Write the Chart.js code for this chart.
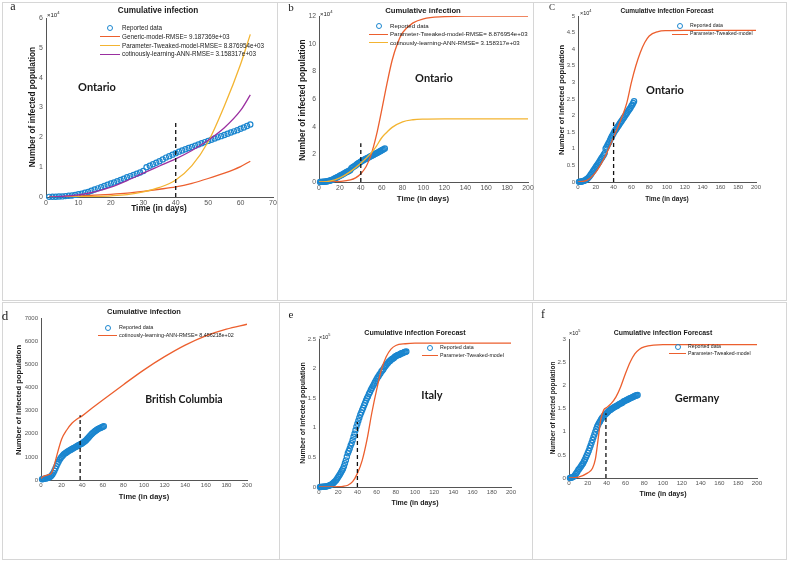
<!DOCTYPE html>
<html>
<head>
<meta charset="utf-8">
<script src="https://cdn.jsdelivr.net/npm/chart.js@4.4.1/dist/chart.umd.min.js"></script>
<style>
  html, body { margin: 0; padding: 0; background: #fff; }
  #page { position: relative; width: 787px; height: 570px; overflow: hidden; font-family: "Liberation Sans", Arial, sans-serif; }
  .frame { position: absolute; border: 1px solid #d6d6d6; box-sizing: border-box; }
  .wrap { position: absolute; }
  .txt { position: absolute; white-space: nowrap; color: #1a1a1a; line-height: 1; }
  .mark { position: absolute; box-sizing: border-box; }
</style>
</head>
<body>
<div id="page"></div>
<script>
// Ontario: reported cumulative cases (x10^4), day 1..63
const ontarioCases = [0.005, 0.008, 0.01, 0.015, 0.02, 0.03, 0.04, 0.05, 0.07, 0.09,
  0.11, 0.14, 0.17, 0.21, 0.25, 0.29, 0.33, 0.37, 0.41, 0.45,
  0.49, 0.53, 0.57, 0.61, 0.66, 0.70, 0.74, 0.78, 0.82, 0.87,
  1.00, 1.05, 1.10, 1.15, 1.20, 1.26, 1.32, 1.37, 1.42, 1.47,
  1.52, 1.56, 1.60, 1.64, 1.68, 1.72, 1.76, 1.80, 1.84, 1.88,
  1.92, 1.96, 2.00, 2.04, 2.08, 2.12, 2.16, 2.20, 2.24, 2.29,
  2.33, 2.38, 2.43];

// British Columbia: reported cases, day 1..61
const bcCases = [30, 40, 50, 60, 70, 85, 100, 120, 140, 180,
  240, 310, 400, 500, 600, 700, 790, 870, 940, 1000,
  1050, 1100, 1140, 1170, 1200, 1230, 1260, 1290, 1310, 1340,
  1360, 1390, 1410, 1440, 1460, 1490, 1510, 1540, 1560, 1590,
  1620, 1650, 1690, 1730, 1780, 1830, 1880, 1930, 1980, 2020,
  2060, 2100, 2130, 2160, 2190, 2220, 2240, 2260, 2280, 2300, 2320];

// Italy: reported cases (x10^5), day 1..91
const italyCases = [0.000, 0.001, 0.002, 0.003, 0.004, 0.006, 0.008, 0.011, 0.015, 0.020,
  0.026, 0.033, 0.042, 0.054, 0.068, 0.085, 0.10, 0.12, 0.145, 0.17,
  0.195, 0.22, 0.25, 0.28, 0.31, 0.35, 0.40, 0.45, 0.51, 0.57,
  0.61, 0.65, 0.70, 0.74, 0.79, 0.85, 0.90, 0.96, 1.02, 1.07,
  1.12, 1.17, 1.22, 1.26, 1.30, 1.34, 1.38, 1.42, 1.46, 1.50,
  1.53, 1.57, 1.60, 1.64, 1.67, 1.70, 1.73, 1.76, 1.79, 1.82,
  1.85, 1.87, 1.90, 1.92, 1.95, 1.97, 1.99, 2.02, 2.04, 2.06,
  2.08, 2.10, 2.12, 2.13, 2.15, 2.16, 2.17, 2.18, 2.20, 2.21,
  2.22, 2.23, 2.23, 2.24, 2.25, 2.26, 2.26, 2.27, 2.28, 2.28, 2.29];

// Germany: reported cases (x10^5), day 1..73
const germanyCases = [0.00, 0.005, 0.01, 0.02, 0.03, 0.05, 0.08, 0.11, 0.14, 0.18,
  0.20, 0.23, 0.26, 0.29, 0.32, 0.36, 0.40, 0.45, 0.49, 0.54,
  0.59, 0.65, 0.70, 0.76, 0.82, 0.88, 0.94, 1.00, 1.06, 1.11,
  1.15, 1.19, 1.22, 1.26, 1.29, 1.31, 1.34, 1.36, 1.38, 1.40,
  1.42, 1.44, 1.46, 1.47, 1.49, 1.50, 1.51, 1.53, 1.54, 1.55,
  1.56, 1.57, 1.59, 1.60, 1.61, 1.62, 1.63, 1.65, 1.66, 1.67,
  1.68, 1.69, 1.70, 1.71, 1.72, 1.73, 1.74, 1.75, 1.76, 1.77, 1.78, 1.78, 1.79];

// panel a model fits (x10^4)
const aDays    = [1, 5, 10, 15, 20, 25, 30, 35, 40, 45, 50, 55, 60, 63];
const aGeneric = [0.0, 0.01, 0.03, 0.06, 0.09, 0.13, 0.19, 0.26, 0.34, 0.46, 0.62, 0.80, 1.02, 1.20];
const aTweaked = [0.0, 0.0, 0.01, 0.02, 0.04, 0.08, 0.17, 0.32, 0.57, 1.05, 1.85, 3.05, 4.45, 5.45];
const aAnn     = [0.0, 0.02, 0.07, 0.17, 0.33, 0.55, 0.80, 1.04, 1.28, 1.56, 1.90, 2.32, 2.90, 3.42];

// panel b (x10^4)
const bTweakedDays = [0, 10, 20, 30, 35, 40, 45, 50, 55, 60, 65, 70, 75, 80, 90, 100, 120, 140, 200];
const bTweaked     = [0, 0.01, 0.04, 0.15, 0.3, 0.6, 1.1, 2.0, 3.4, 5.2, 7.1, 8.8, 10.0, 10.8, 11.5, 11.8, 11.95, 12.0, 12.0];
const bAnnDays = [0, 10, 20, 30, 40, 50, 55, 60, 65, 70, 80, 90, 100, 120, 200];
const bAnn     = [0, 0.06, 0.3, 0.75, 1.35, 2.1, 2.6, 3.2, 3.6, 3.95, 4.35, 4.5, 4.55, 4.57, 4.57];

// panel c (x10^4)
const cDays    = [0, 10, 20, 30, 40, 50, 55, 60, 65, 70, 75, 80, 90, 100, 120, 200];
const cTweaked = [0, 0.05, 0.3, 0.75, 1.35, 2.0, 2.4, 3.0, 3.5, 3.9, 4.2, 4.4, 4.53, 4.56, 4.57, 4.57];

// panel d
const dDays = [0, 2, 5, 8, 10, 12, 15, 20, 25, 30, 35, 40, 50, 60, 80, 100, 120, 140, 160, 180, 200];
const dAnn  = [70, 150, 200, 240, 290, 500, 1000, 1760, 2160, 2450, 2640, 2770, 3120, 3460, 4120, 4760, 5330, 5830, 6230, 6520, 6730];

// panel e (x10^5)
const eDays    = [0, 10, 20, 25, 30, 35, 40, 45, 50, 55, 60, 65, 70, 75, 80, 90, 100, 120, 200];
const eTweaked = [0, 0.0, 0.005, 0.012, 0.03, 0.09, 0.23, 0.45, 0.8, 1.25, 1.64, 1.98, 2.2, 2.33, 2.39, 2.42, 2.43, 2.43, 2.43];

// panel f (x10^5)
const fDays    = [0, 10, 20, 25, 28, 30, 32, 34, 37, 40, 45, 50, 55, 60, 65, 70, 75, 80, 90, 100, 120, 200];
const fTweaked = [0, 0.02, 0.11, 0.21, 0.4, 0.68, 1.0, 1.28, 1.47, 1.52, 1.61, 1.75, 1.97, 2.25, 2.5, 2.68, 2.78, 2.83, 2.87, 2.88, 2.88, 2.88];

// training cut-off marker (day, top of dashed line) per panel
const cutDay = [40, 40, 40, 38, 40, 39.3];
const cutTop = [2.5, 2.8, 1.8, 2800, 1.1, 1.4];

const xMax  = [70, 200, 200, 200, 200, 200];
const yMax  = [6, 12, 5, 7000, 2.5, 3];
const yStep = [1, 2, 0.5, 1000, 0.5, 0.5];

const BLUE = '#1b86cf', RED = '#ec5f2e', YELLOW = '#f3b431', PURPLE = '#9a2fa0';

const page = document.getElementById('page');

function el(cls, css, html) {
  const d = document.createElement('div');
  d.className = cls;
  Object.assign(d.style, css);
  if (html !== undefined) d.innerHTML = html;
  page.appendChild(d);
  return d;
}

function text(str, cx, cy, size, opts = {}) {
  const rot = opts.rotate ? ' rotate(-90deg)' : '';
  const tx = opts.anchor === 'left' ? '0' : '-50%';
  el('txt', {
    left: cx + 'px', top: cy + 'px',
    fontSize: size + 'px',
    fontWeight: opts.bold ? 'bold' : 'normal',
    fontFamily: opts.family || '"Liberation Sans", Arial, sans-serif',
    transform: 'translate(' + tx + ', -50%)' + rot,
    transformOrigin: opts.rotate ? '0 0' : '50% 50%'
  }, str);
}

function vtext(str, cx, cy, size) {
  // rotated axis title, centred on (cx, cy)
  const d = el('txt', {
    left: cx + 'px', top: cy + 'px', fontSize: size + 'px', fontWeight: 'bold',
    transform: 'translate(-50%, -50%) rotate(-90deg)'
  }, str);
  return d;
}

function legend(left, top, rowH, swW, fs, items) {
  items.forEach((it, i) => {
    const cy = top + i * rowH;
    if (it.kind === 'circle') {
      el('mark', { left: (left + swW / 2 - 3) + 'px', top: (cy - 3) + 'px', width: '6px', height: '6px',
        border: '1.3px solid ' + it.color, borderRadius: '50%' });
    } else {
      el('mark', { left: left + 'px', top: (cy - 0.6) + 'px', width: swW + 'px', height: '0',
        borderTop: '1.3px solid ' + it.color });
    }
    text(it.label, left + swW + 2, cy, fs, { anchor: 'left' });
  });
}

const daily = ys => ys.map((y, i) => ({ x: i + 1, y }));
const pairs = (xs, ys) => ys.map((y, i) => ({ x: xs[i], y }));

function reported(ys, order) {
  return { data: daily(ys), showLine: false, borderColor: BLUE, backgroundColor: 'rgba(0,0,0,0)',
    pointRadius: 2.6, pointBorderWidth: 1.2, pointStyle: 'circle', clip: false, order: 10 };
}
function curve(xs, ys, color, order) {
  return { data: pairs(xs, ys), borderColor: color, borderWidth: 1.3, pointRadius: 0,
    cubicInterpolationMode: 'monotone', fill: false, order: order };
}
function cutoff(k) {
  return { data: pairs([cutDay[k], cutDay[k]], [0, cutTop[k]]), borderColor: '#111', borderWidth: 1.3,
    borderDash: [4, 3], pointRadius: 0, order: 0 };
}

function panel(k, rect, datasets, tickSize) {
  const padL = 40, padT = 10, padR = 14, padB = 20;
  const w = rect.r - rect.l, h = rect.b - rect.t;
  const wrap = el('wrap', { left: (rect.l - padL) + 'px', top: (rect.t - padT) + 'px' });
  const cv = document.createElement('canvas');
  cv.width = w + padL + padR;
  cv.height = h + padT + padB;
  wrap.appendChild(cv);
  const tickFont = { size: tickSize, family: '"Liberation Sans", Arial, sans-serif' };
  return new Chart(cv, {
    type: 'line',
    data: { datasets },
    options: {
      responsive: false,
      animation: false,
      devicePixelRatio: 1,
      layout: { padding: { top: padT, right: padR, left: 0, bottom: 0 } },
      plugins: { legend: { display: false }, tooltip: { enabled: false } },
      scales: {
        x: {
          type: 'linear', min: 0, max: xMax[k],
          afterFit: s => { s.height = padB; },
          grid: { display: false, drawTicks: false },
          border: { display: true, color: '#555', width: 1 },
          ticks: { stepSize: xMax[k] === 70 ? 10 : 20, font: tickFont, color: '#555', padding: 2, maxRotation: 0, autoSkip: false }
        },
        y: {
          type: 'linear', min: 0, max: yMax[k],
          afterFit: s => { s.width = padL; },
          grid: { display: false, drawTicks: false },
          border: { display: true, color: '#555', width: 1 },
          ticks: { stepSize: yStep[k], font: tickFont, color: '#555', padding: 3, autoSkip: false,
            callback: v => String(+v.toFixed(2)) }
        }
      }
    }
  });
}

// frames
el('frame', { left: '2px', top: '2px', width: '276px', height: '299px' });
el('frame', { left: '277px', top: '2px', width: '257px', height: '299px' });
el('frame', { left: '533px', top: '2px', width: '254px', height: '299px' });
el('frame', { left: '2px', top: '302px', width: '278px', height: '258px' });
el('frame', { left: '279px', top: '302px', width: '254px', height: '258px' });
el('frame', { left: '532px', top: '302px', width: '255px', height: '258px' });

// a
panel(0, { l: 46, t: 18, r: 273, b: 197 }, [
  reported(ontarioCases),
  curve(aDays, aGeneric, RED, 3),
  curve(aDays, aTweaked, YELLOW, 2),
  curve(aDays, aAnn, PURPLE, 1),
  cutoff(0)
], 7);
// b
panel(1, { l: 319, t: 16, r: 528, b: 182 }, [
  reported(ontarioCases),
  curve(bTweakedDays, bTweaked, RED, 2),
  curve(bAnnDays, bAnn, YELLOW, 1),
  cutoff(1)
], 6.8);
// c
panel(2, { l: 578, t: 16, r: 756, b: 182 }, [
  reported(ontarioCases),
  curve(cDays, cTweaked, RED, 1),
  cutoff(2)
], 6);
// d
panel(3, { l: 41, t: 318, r: 247, b: 480 }, [
  reported(bcCases),
  curve(dDays, dAnn, RED, 1),
  cutoff(3)
], 6);
// e
panel(4, { l: 319, t: 339, r: 511, b: 487 }, [
  reported(italyCases),
  curve(eDays, eTweaked, RED, 1),
  cutoff(4)
], 6);
// f
panel(5, { l: 569, t: 339, r: 757, b: 478 }, [
  reported(germanyCases),
  curve(fDays, fTweaked, RED, 1),
  cutoff(5)
], 6.2);

// titles
text('Cumulative infection', 158, 11, 8.2, { bold: true });
text('Cumulative infection', 423, 11, 7.7, { bold: true });
text('Cumulative infection Forecast', 667, 11, 6.5, { bold: true });
text('Cumulative infection', 144, 312, 7.5, { bold: true });
text('Cumulative infection Forecast', 415, 334, 7.1, { bold: true });
text('Cumulative infection Forecast', 663, 333, 6.9, { bold: true });

// axis titles
text('Time (in days)', 159, 208, 8.3, { bold: true });
text('Time (in days)', 423, 199, 7.8, { bold: true });
text('Time (in days)', 667, 199, 6.5, { bold: true });
text('Time (in days)', 144, 497, 7.5, { bold: true });
text('Time (in days)', 415, 502, 7, { bold: true });
text('Time (in days)', 663, 493, 7, { bold: true });
vtext('Number of infected population', 32, 107, 8.3);
vtext('Number of infected population', 302, 100, 8.4);
vtext('Number of infected population', 562, 100, 7.6);
vtext('Number of infected population', 19, 400, 7.6);
vtext('Number of infected population', 302, 413, 7);
vtext('Number of infected population', 553, 408, 6.4);

// exponent labels
text('×10<sup style="font-size:70%">4</sup>', 47, 14, 6, { anchor: 'left' });
text('×10<sup style="font-size:70%">4</sup>', 320, 13, 6, { anchor: 'left' });
text('×10<sup style="font-size:70%">4</sup>', 580, 13, 5.5, { anchor: 'left' });
text('×10<sup style="font-size:70%">5</sup>', 319, 337, 5.5, { anchor: 'left' });
text('×10<sup style="font-size:70%">5</sup>', 569, 333, 5.5, { anchor: 'left' });

// region labels
const region = { bold: true, family: 'Lato, "Open Sans", sans-serif' };
text('Ontario', 97, 86, 11, region);
text('Ontario', 434, 77, 11, region);
text('Ontario', 665, 89, 11, region);
text('British Columbia', 184, 399, 10.5, region);
text('Italy', 432, 394, 11, region);
text('Germany', 697, 397, 11, region);

// panel letters
const serif = { family: '"Liberation Serif", "DejaVu Serif", serif' };
text('a', 13, 6, 12, serif);
text('b', 291, 7, 11, serif);
text('C', 552, 7, 9, serif);
text('d', 5, 315, 13, serif);
text('e', 291, 314, 11, serif);
text('f', 543, 314, 12, serif);

// legends
legend(100, 28, 8.8, 20, 6.3, [
  { kind: 'circle', color: BLUE, label: 'Reported data' },
  { kind: 'line', color: RED, label: 'Generic-model-RMSE= 9.187369e+03' },
  { kind: 'line', color: YELLOW, label: 'Parameter-Tweaked-model-RMSE= 8.876954e+03' },
  { kind: 'line', color: PURPLE, label: 'cotinously-learning-ANN-RMSE= 3.158317e+03' }
]);
legend(369, 26, 8.4, 19, 6.1, [
  { kind: 'circle', color: BLUE, label: 'Reported data' },
  { kind: 'line', color: RED, label: 'Parameter-Tweaked-model-RMSE= 8.876954e+03' },
  { kind: 'line', color: YELLOW, label: 'cotinously-learning-ANN-RMSE= 3.158317e+03' }
]);
legend(672, 26, 8.3, 16, 5.2, [
  { kind: 'circle', color: BLUE, label: 'Reported data' },
  { kind: 'line', color: RED, label: 'Parameter-Tweaked-model' }
]);
legend(98, 328, 8, 19, 5.4, [
  { kind: 'circle', color: BLUE, label: 'Reported data' },
  { kind: 'line', color: RED, label: 'cotinously-learning-ANN-RMSE= 8.456218e+02' }
]);
legend(422, 348, 8, 16, 5.3, [
  { kind: 'circle', color: BLUE, label: 'Reported data' },
  { kind: 'line', color: RED, label: 'Parameter-Tweaked-model' }
]);
legend(669, 347, 6.8, 17, 5.2, [
  { kind: 'circle', color: BLUE, label: 'Reported data' },
  { kind: 'line', color: RED, label: 'Parameter-Tweaked-model' }
]);
</script>
</body>
</html>
